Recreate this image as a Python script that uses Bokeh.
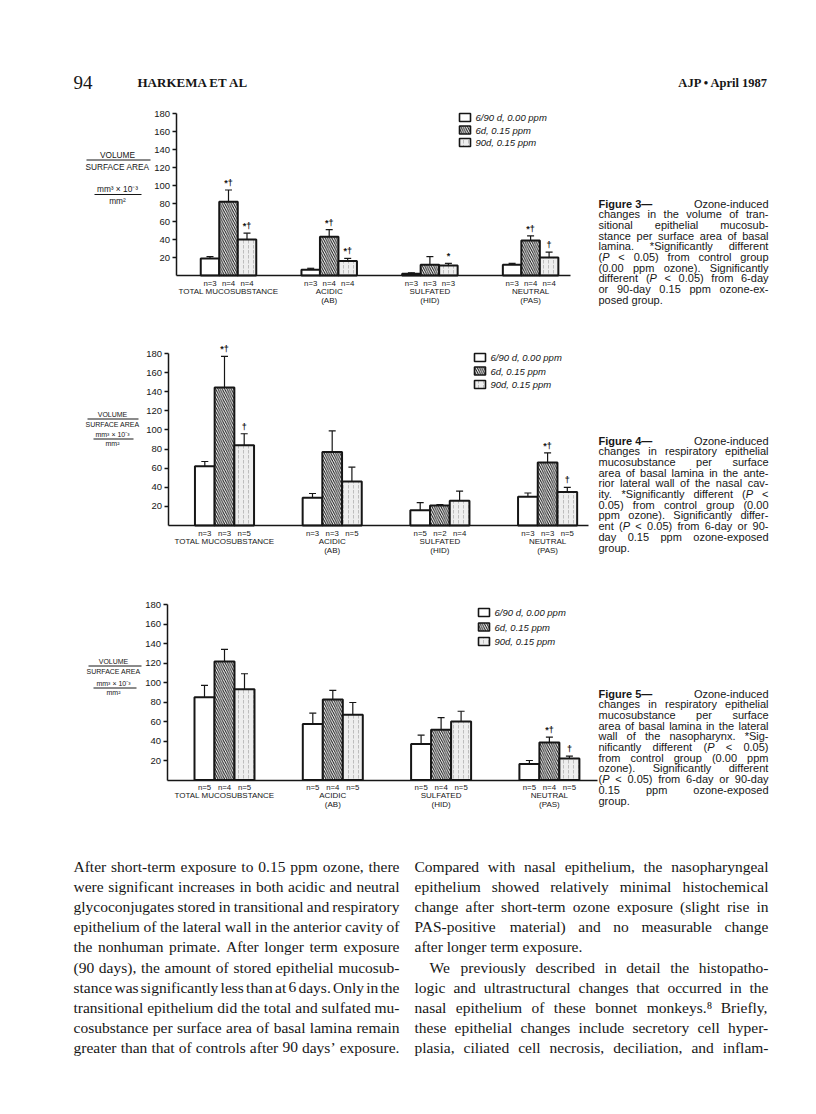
from bokeh.plotting import figure
from bokeh.models import Range1d, LinearAxis, FixedTicker, ColumnDataSource
from bokeh.layouts import column
from bokeh.embed import file_html
from bokeh.resources import INLINE
from bokeh.core.properties import value

# ---------------------------------------------------------------- data
categories = ["TOTAL MUCOSUBSTANCE", "ACIDIC", "SULFATED", "NEUTRAL"]
category_stain = ["", "(AB)", "(HID)", "(PAS)"]
series_labels = ["6/90 d, 0.00 ppm", "6d, 0.15 ppm", "90d, 0.15 ppm"]
y_ticks = [20, 40, 60, 80, 100, 120, 140, 160, 180]

# Figure 3 - transitional epithelium
fig3_control = [19, 6.5, 2, 12]
fig3_control_sem = [2, 1.5, 1, 1.5]
fig3_6d = [82, 43, 12, 39]
fig3_6d_sem = [13, 8, 9, 5]
fig3_90d = [40, 16, 11, 20]
fig3_90d_sem = [7, 3, 2.5, 6]
fig3_n_control = ["n=3", "n=3", "n=3", "n=3"]
fig3_n_6d = ["n=4", "n=4", "n=3", "n=4"]
fig3_n_90d = ["n=4", "n=4", "n=3", "n=4"]
fig3_sig_6d = ["*†", "*†", "", "*†"]
fig3_sig_90d = ["*†", "*†", "*", "†"]

# Figure 4 - respiratory epithelium, nasal cavity
fig4_control = [62, 29, 16, 30]
fig4_control_sem = [5, 4.5, 8, 4]
fig4_6d = [144.5, 77, 21, 66]
fig4_6d_sem = [32.5, 22, 1, 10]
fig4_90d = [84, 46, 26, 35]
fig4_90d_sem = [12, 15, 10, 5]
fig4_n_control = ["n=3", "n=3", "n=5", "n=3"]
fig4_n_6d = ["n=3", "n=3", "n=2", "n=3"]
fig4_n_90d = ["n=5", "n=5", "n=4", "n=5"]
fig4_sig_6d = ["*†", "", "", "*†"]
fig4_sig_90d = ["†", "", "", "†"]

# Figure 5 - respiratory epithelium, nasopharynx
fig5_control = [85, 57.5, 37, 16.5]
fig5_control_sem = [12, 11, 9, 3.5]
fig5_6d = [121.5, 82.5, 51.5, 38.5]
fig5_6d_sem = [12.5, 9.5, 12.5, 5.5]
fig5_90d = [93, 67, 60, 22]
fig5_90d_sem = [16, 12.5, 10.5, 2.5]
fig5_n_control = ["n=5", "n=5", "n=5", "n=5"]
fig5_n_6d = ["n=4", "n=4", "n=4", "n=4"]
fig5_n_90d = ["n=5", "n=5", "n=5", "n=5"]
fig5_sig_6d = ["", "", "", "*†"]
fig5_sig_90d = ["", "", "", "†"]

# ---------------------------------------------------------------- texts
header_page = "94"
header_authors = "HARKEMA ET AL"
header_journal = "AJP • April 1987"

caption3 = [
    "#Figure\u00a03— Ozone-induced", "changes in the volume of tran-", "sitional epithelial mucosub-",
    "stance per surface area of basal", "lamina. *Significantly different",
    "(|_P < 0.05) from control group", "(0.00 ppm ozone). Significantly",
    "different (|_P < 0.05) from 6-day", "or 90-day 0.15 ppm ozone-ex-", "posed group.",
]
caption4 = [
    "#Figure\u00a04— Ozone-induced", "changes in respiratory epithelial",
    "mucosubstance per surface", "area of basal lamina in the ante-",
    "rior lateral wall of the nasal cav-", "ity. *Significantly different (|_P <",
    "0.05) from control group (0.00", "ppm ozone). Significantly differ-",
    "ent (|_P < 0.05) from 6-day or 90-", "day 0.15 ppm ozone-exposed", "group.",
]
caption5 = [
    "#Figure\u00a05— Ozone-induced", "changes in respiratory epithelial",
    "mucosubstance per surface", "area of basal lamina in the lateral",
    "wall of the nasopharynx. *Sig-", "nificantly different (|_P < 0.05)",
    "from control group (0.00 ppm", "ozone). Significantly different",
    "(|_P < 0.05) from 6-day or 90-day", "0.15 ppm ozone-exposed", "group.",
]
body_left = [
    "After short-term exposure to 0.15 ppm ozone, there",
    "were significant increases in both acidic and neutral",
    "glycoconjugates stored in transitional and respiratory",
    "epithelium of the lateral wall in the anterior cavity of",
    "the nonhuman primate. After longer term exposure",
    "(90 days), the amount of stored epithelial mucosub-",
    "stance was significantly less than at 6 days. Only in the",
    "transitional epithelium did the total and sulfated mu-",
    "cosubstance per surface area of basal lamina remain",
    "greater than that of controls after 90 days’ exposure.",
]
body_right = [
    "Compared with nasal epithelium, the nasopharyngeal",
    "epithelium showed relatively minimal histochemical",
    "change after short-term ozone exposure (slight rise in",
    "PAS-positive material) and no measurable change",
    "after longer term exposure.",
    "We previously described in detail the histopatho-",
    "logic and ultrastructural changes that occurred in the",
    "nasal epithelium of these bonnet monkeys.⁸ Briefly,",
    "these epithelial changes include secretory cell hyper-",
    "plasia, ciliated cell necrosis, deciliation, and inflam-",
]

# ---------------------------------------------------------------- fonts / metrics
SANS = "Liberation Sans"
SERIF = "Liberation Serif"
INK = "#161616"
PAGE_W = 800


def make_table(groups, default):
    t = {}
    for chars, w in groups:
        for ch in chars:
            t[ch] = w
    t["__default__"] = default
    return t


HELV = make_table([
    (" !,./:;[]ftI\u00a0", 278), ("ijl'’", 222), ("()-r", 333), ("cksvxyzJ", 500),
    ("0123456789abdeghnopqu?†L", 556), ("<>=+", 584), ("FTZ", 611), ("ABEKPSVXY&", 667),
    ("CDHNRUw", 722), ("GOQ", 778), ("mM", 833), ("W", 944), ("—", 1000), ("*", 389), ("%", 889),
], 556)
HELV_B = make_table([
    (" ijl.,:;!I\u00a0", 278), ("ft()-", 333), ("r*", 389), ("0123456789aceksvxyJ?†", 556),
    ("z", 500), ("bdghnopquFTLZ", 611), ("EPSVXY", 667), ("ABCDHKNRU", 722), ("GOQw", 778),
    ("m", 889), ("M", 833), ("W", 944), ("—", 1000),
], 611)
TIMES = make_table([
    (" ,.\u00a0", 250), ("ijlt:;/", 278), ("()-frI'’!", 333), ("sJ", 389), ("acez?", 444),
    ("0123456789bdghknopquvxy*", 500), ("FPS", 556), ("ELTZ", 611), ("BCR", 667),
    ("ADGHKNOQUVXYw", 722), ("m", 778), ("M", 889), ("W", 944), ("⁸", 300),
], 500)


def text_width(s, table, size):
    d = table["__default__"]
    return sum(table.get(ch, d) for ch in s) * size / 1000.0


def justify(lines, x_left, x_right, y_first, pitch, size, tables, left_lines=(), indents=None):
    indents = indents or {}
    out = {"normal": ([], [], []), "bold": ([], [], []), "italic": ([], [], [])}
    space = text_width(" ", tables["normal"], size)
    for k, line in enumerate(lines):
        y = y_first + k * pitch
        parsed = []
        for w in line.split(" "):
            segs = []
            for s in w.split("|"):
                style = "normal"
                if s.startswith("#"):
                    style, s = "bold", s[1:]
                elif s.startswith("_"):
                    style, s = "italic", s[1:]
                segs.append((style, s, text_width(s, tables[style], size)))
            parsed.append(segs)
        widths = [sum(sg[2] for sg in segs) for segs in parsed]
        x0 = x_left + indents.get(k, 0)
        if k in left_lines or len(parsed) == 1:
            gap = space
        else:
            gap = max((x_right - x0 - sum(widths)) / (len(parsed) - 1), space * 0.5)
        x = x0
        for segs, wd in zip(parsed, widths):
            xs = x
            for style, s, sw in segs:
                out[style][0].append(xs)
                out[style][1].append(y)
                out[style][2].append(s)
                xs += sw
            x += wd + gap
    return out


def draw_words(p, out, font, size, color=INK):
    for style, (xs, ys, ts) in out.items():
        if not ts:
            continue
        src = ColumnDataSource(dict(x=xs, y=ys, t=ts))
        p.text(x="x", y="y", text="t", source=src, x_range_name="px", y_range_name="px",
               text_font=value(font), text_font_size=value(f"{size}px"), text_font_style=style,
               text_color=color, text_align="left", text_baseline="middle")


def px_text(p, x, y, s, size, font=SANS, style="normal", align="left", color=INK):
    src = ColumnDataSource(dict(x=[x], y=[y], t=[s]))
    p.text(x="x", y="y", text="t", source=src, x_range_name="px", y_range_name="px",
           text_font=value(font), text_font_size=value(f"{size}px"), text_font_style=style,
           text_color=color, text_align=align, text_baseline="middle")


def base_figure(top, bottom, xr=None, yr=None):
    p = figure(width=PAGE_W, height=bottom - top,
               x_range=xr or Range1d(0, PAGE_W), y_range=yr or Range1d(bottom, top),
               x_axis_type=None, y_axis_type=None, toolbar_location=None,
               output_backend="svg", min_border=0, title=None, outline_line_color=None,
               background_fill_color="white", border_fill_color="white")
    p.extra_x_ranges = {"px": Range1d(0, PAGE_W)}
    p.extra_y_ranges = {"px": Range1d(bottom, top)}
    return p


STYLE_CTRL = dict(fill_color="white")
STYLE_6D = dict(fill_color="white", hatch_pattern="left_diagonal_line", hatch_color="#111111",
                hatch_scale=4.5, hatch_weight=1.0)
STYLE_90D = dict(fill_color="#eeeeee", hatch_pattern="vertical_dash", hatch_color="#bdbdbd",
                 hatch_scale=5, hatch_weight=1.0)


def chart_panel(top, bottom, geo, means, sems, ns, sigs, ylab, leg):
    c0, pitch = geo["c0"], geo["pitch"]
    ppu = (geo["y0"] - geo["y180"]) / 180.0
    xr = Range1d((0 - c0) / pitch, (PAGE_W - c0) / pitch)
    yr = Range1d((geo["y0"] - bottom) / ppu, (geo["y0"] - top) / ppu)
    p = base_figure(top, bottom, xr, yr)
    bw = geo["barw"] / pitch
    ax_x = (geo["axis_x"] - c0) / pitch
    x_end = (geo["base_end"] - c0) / pitch

    yax = LinearAxis(fixed_location=ax_x, bounds=(0, 180), ticker=FixedTicker(ticks=y_ticks),
                     axis_line_width=1.5, axis_line_color=INK, major_tick_out=4, major_tick_in=0,
                     major_tick_line_width=1.3, major_tick_line_color=INK,
                     minor_tick_out=0, minor_tick_in=0,
                     major_label_text_font=SANS, major_label_text_font_size="9.5px",
                     major_label_text_color=INK, major_label_standoff=2)
    p.add_layout(yax, "left")
    xax = LinearAxis(fixed_location=0, bounds=(ax_x, x_end), ticker=FixedTicker(ticks=[]),
                     axis_line_width=1.5, axis_line_color=INK, major_tick_out=0, major_tick_in=0,
                     minor_tick_out=0, minor_tick_in=0, major_label_text_font_size="0px")
    p.add_layout(xax, "below")

    styles = [STYLE_CTRL, STYLE_6D, STYLE_90D]
    for k in range(3):
        xs = [i + (k - 1) * bw for i in range(len(categories))]
        etop = [m + e for m, e in zip(means[k], sems[k])]
        src = ColumnDataSource(dict(x=xs, top=means[k], etop=etop, n=ns[k], sig=sigs[k],
                                    zero=[0] * len(xs)))
        p.vbar(x="x", top="top", bottom=0, width=bw, source=src, line_color=INK, line_width=2,
               **styles[k])
        p.segment(x0="x", y0="top", x1="x", y1="etop", source=src, line_color=INK, line_width=1.2)
        p.scatter(x="x", y="etop", source=src, marker="dash", size=7, line_color=INK,
                  line_width=1.2)
        p.text(x="x", y="etop", text="sig", source=src, text_align="center",
               text_baseline="bottom", y_offset=-2, text_font=value(SANS),
               text_font_size=value("9px"), text_font_style="bold", text_color=INK)
        p.text(x="x", y="zero", text="n", source=src, text_align="center", text_baseline="top",
               y_offset=3, text_font=value(SANS), text_font_size=value("7.8px"), text_color=INK)
    cat = ColumnDataSource(dict(x=list(range(len(categories))), y=[0] * len(categories),
                                a=categories, b=category_stain))
    for col, off in (("a", 11), ("b", 20)):
        p.text(x="x", y="y", text=col, source=cat, text_align="center", text_baseline="top",
               y_offset=off, text_font=value(SANS), text_font_size=value("8px"), text_color=INK)

    # y-axis label written as two stacked fractions
    cx, fs = ylab["cx"], ylab["fs"]
    px_text(p, cx, ylab["y"][0], "VOLUME", fs, align="center")
    px_text(p, cx, ylab["y"][2], "SURFACE AREA", fs, align="center")
    px_text(p, cx, ylab["y"][3], "mm³ × 10⁻³", fs, align="center")
    px_text(p, cx, ylab["y"][5], "mm²", fs, align="center")
    bars = ColumnDataSource(dict(x0=[ylab["bar1"][0], ylab["bar2"][0]],
                                 x1=[ylab["bar1"][1], ylab["bar2"][1]],
                                 y=[ylab["y"][1], ylab["y"][4]]))
    p.segment(x0="x0", y0="y", x1="x1", y1="y", source=bars, x_range_name="px",
              y_range_name="px", line_color=INK, line_width=1)

    # legend
    lx, ly, pitch_l, fsl = leg["x"], leg["y"], leg["pitch"], leg["fs"]
    for k in range(3):
        src = ColumnDataSource(dict(x=[lx + 5.5], y=[ly + k * pitch_l]))
        p.rect(x="x", y="y", width=11, height=8, source=src, x_range_name="px",
               y_range_name="px", line_color=INK, line_width=1.6, **styles[k])
        px_text(p, lx + 16, ly + k * pitch_l, series_labels[k], fsl, style="italic")
    return p


tables = {"normal": HELV, "bold": HELV_B, "italic": HELV}
serif_tables = {"normal": TIMES, "bold": TIMES, "italic": TIMES}
CAP_FS = 11
CAP_PITCH = 10.7

# header
ph = base_figure(0, 100)
px_text(ph, 73, 82, header_page, 19, font=SERIF)
px_text(ph, 137, 82, header_authors, 13, font=SERIF, style="bold")
px_text(ph, 768, 82, header_journal, 12.5, font=SERIF, style="bold", align="right")

p3 = chart_panel(100, 335,
                 dict(axis_x=175.5, c0=228, pitch=100.7, barw=18.5, y180=113, y0=275, base_end=570),
                 [fig3_control, fig3_6d, fig3_90d], [fig3_control_sem, fig3_6d_sem, fig3_90d_sem],
                 [fig3_n_control, fig3_n_6d, fig3_n_90d], [["", "", "", ""], fig3_sig_6d, fig3_sig_90d],
                 dict(cx=117, fs=8.3, y=[154, 159.5, 166.5, 188, 194, 200], bar1=(86, 150), bar2=(94, 141)),
                 dict(x=459, y=117, pitch=12.5, fs=9.5))
draw_words(p3, justify(caption3, 598, 768, 203, CAP_PITCH, CAP_FS, tables, left_lines=(9,)), SANS, CAP_FS)

p4 = chart_panel(335, 590,
                 dict(axis_x=167.5, c0=224, pitch=107.7, barw=19.7, y180=353, y0=525, base_end=588),
                 [fig4_control, fig4_6d, fig4_90d], [fig4_control_sem, fig4_6d_sem, fig4_90d_sem],
                 [fig4_n_control, fig4_n_6d, fig4_n_90d], [["", "", "", ""], fig4_sig_6d, fig4_sig_90d],
                 dict(cx=112, fs=7, y=[414, 418.5, 423.5, 434, 438.5, 442.5], bar1=(87, 138), bar2=(93, 133)),
                 dict(x=474, y=357, pitch=13.5, fs=9.5))
draw_words(p4, justify(caption4, 598, 768, 440, CAP_PITCH, CAP_FS, tables, left_lines=(10,)), SANS, CAP_FS)

p5 = chart_panel(590, 845,
                 dict(axis_x=166.5, c0=224, pitch=108.3, barw=20, y180=604, y0=779.5, base_end=597),
                 [fig5_control, fig5_6d, fig5_90d], [fig5_control_sem, fig5_6d_sem, fig5_90d_sem],
                 [fig5_n_control, fig5_n_6d, fig5_n_90d], [["", "", "", ""], fig5_sig_6d, fig5_sig_90d],
                 dict(cx=113, fs=7, y=[661, 665.5, 671, 683, 687.5, 692], bar1=(88, 141), bar2=(93, 136)),
                 dict(x=478, y=612, pitch=14.5, fs=9.5))
draw_words(p5, justify(caption5, 598, 768, 693, CAP_PITCH, CAP_FS, tables, left_lines=(10,)), SANS, CAP_FS)

# body text
pb = base_figure(845, 1098)
draw_words(pb, justify(body_left, 73, 399, 866, 20.1, 15.5, serif_tables), SERIF, 15.5)
draw_words(pb, justify(body_right, 414, 768, 866, 20.1, 15.5, serif_tables, left_lines=(4,),
                       indents={5: 15}), SERIF, 15.5)

layout = column(ph, p3, p4, p5, pb, spacing=0)
open("out.html", "w").write(file_html(layout, INLINE))
